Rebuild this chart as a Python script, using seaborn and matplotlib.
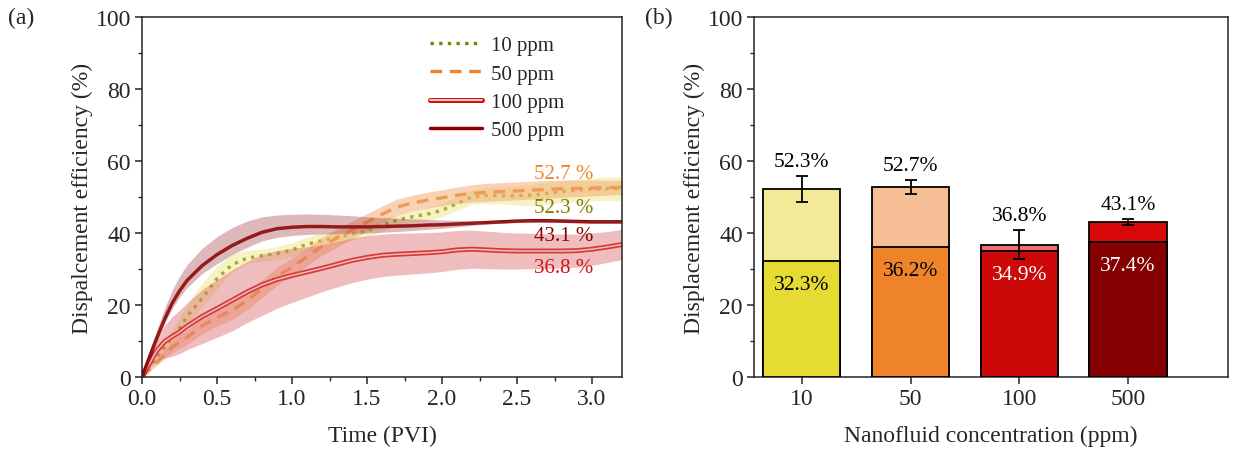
import numpy as np
import pandas as pd
import matplotlib
matplotlib.use("Agg")
import matplotlib.pyplot as plt
import matplotlib.patheffects as pe
from matplotlib.ticker import MultipleLocator, FormatStrFormatter
import seaborn as sns

sns.set_style("ticks")
plt.rcParams["font.family"] = ["Liberation Serif", "DejaVu Serif"]

# ---------------- data: panel (a) ----------------
time_pvi = [0, 0.05, 0.1, 0.15, 0.2, 0.25, 0.3, 0.4, 0.5, 0.6, 0.7, 0.8, 0.9, 1.0,
            1.1, 1.2, 1.3, 1.4, 1.5, 1.6, 1.7, 1.8, 1.9, 2.0, 2.1, 2.2, 2.3, 2.4,
            2.5, 2.6, 2.7, 2.8, 2.9, 3.0, 3.1, 3.2]

eff_10 = [0, 2.8, 5.5, 8.2, 11.0, 13.5, 16.8, 21.8, 27.3, 31.2, 33.0, 33.7, 34.3, 35.3,
          36.9, 37.9, 38.8, 39.7, 40.6, 42.2, 43.6, 44.5, 45.2, 46.3, 48.2, 50.0, 50.4, 50.4,
          50.4, 50.5, 51.0, 51.5, 51.9, 52.2, 52.3, 52.3]
low_10 = [0, 2.3, 4.5, 6.7, 9.0, 11.5, 14.5, 19.5, 24.5, 29.0, 31.5, 32.2, 32.5, 33.4,
          35.0, 36.0, 37.0, 38.0, 38.9, 40.5, 42.1, 43.0, 43.5, 44.5, 46.3, 48.0, 48.2, 48.0,
          47.8, 47.6, 48.0, 48.5, 48.8, 49.0, 49.0, 49.0]
high_10 = [0, 3.3, 6.5, 9.7, 13.0, 16.5, 20.0, 26.0, 30.8, 34.2, 35.2, 35.5, 36.3, 37.3,
           38.9, 39.9, 40.7, 41.5, 42.4, 43.9, 45.1, 46.1, 47.0, 48.3, 50.2, 52.0, 52.6, 52.9,
           53.1, 53.4, 54.0, 54.5, 55.0, 55.3, 55.6, 55.6]

eff_50 = [0, 2.0, 4.0, 6.2, 8.2, 9.8, 11.0, 14.2, 16.5, 18.5, 21.2, 24.5, 28.0, 30.5,
          33.4, 36.3, 38.6, 40.8, 43.0, 45.2, 47.2, 48.3, 49.1, 49.8, 50.5, 51.0, 51.3, 51.5,
          51.7, 51.9, 52.1, 52.3, 52.4, 52.5, 52.6, 52.7]
std_50 = [0, 0.4, 0.8, 1.2, 1.5, 1.8, 2.0, 2.2, 2.4, 2.5, 2.5, 2.5, 2.5, 2.5,
          2.5, 2.5, 2.5, 2.5, 2.4, 2.3, 2.2, 2.2, 2.2, 2.2, 2.3, 2.4, 2.5, 2.5,
          2.5, 2.5, 2.5, 2.4, 2.3, 2.2, 2.1, 2.0]

eff_100 = [0, 3.8, 7.4, 9.8, 11.2, 12.5, 14.1, 16.8, 19.0, 21.3, 23.6, 25.6, 27.1, 28.2,
           29.2, 30.2, 31.3, 32.4, 33.2, 33.8, 34.1, 34.3, 34.5, 34.8, 35.3, 35.5, 35.3, 35.1,
           35.0, 35.0, 35.0, 35.0, 35.1, 35.5, 36.1, 36.8]
std_100 = [0, 1.5, 3.0, 4.5, 5.5, 6.0, 6.5, 7.5, 8.0, 8.5, 8.5, 8.5, 8.0, 7.5,
           7.0, 6.5, 6.3, 6.2, 6.0, 5.9, 5.8, 5.7, 5.6, 5.5, 5.4, 5.3, 5.2, 5.1,
           5.0, 4.9, 4.8, 4.7, 4.6, 4.5, 4.3, 4.2]

eff_500 = [0, 5.5, 11.0, 16.0, 20.4, 23.9, 26.8, 30.9, 34.0, 36.5, 38.5, 40.2, 41.2, 41.6,
           41.8, 41.8, 41.7, 41.7, 41.7, 41.8, 41.9, 42.0, 42.2, 42.3, 42.5, 42.7, 42.9, 43.1,
           43.3, 43.4, 43.4, 43.3, 43.2, 43.1, 43.1, 43.1]
low_500 = [0, 5.0, 10.0, 14.8, 18.9, 22.2, 24.8, 28.7, 31.5, 34.0, 36.0, 37.8, 38.8, 39.3,
           39.6, 39.7, 39.8, 39.9, 40.0, 40.2, 40.4, 40.7, 41.0, 41.3, 41.7, 42.1, 42.5, 42.7,
           42.9, 43.0, 43.0, 42.9, 42.8, 42.7, 42.7, 42.7]
high_500 = [0, 6.5, 13.0, 19.0, 24.0, 28.0, 31.2, 35.7, 39.0, 41.5, 43.3, 44.5, 45.0, 45.2,
            45.3, 45.2, 45.0, 44.8, 44.5, 44.3, 44.1, 43.9, 43.8, 43.6, 43.5, 43.4, 43.4, 43.5,
            43.7, 43.8, 43.8, 43.7, 43.6, 43.5, 43.5, 43.5]

series_labels = ["10 ppm", "50 ppm", "100 ppm", "500 ppm"]
final_texts = ["52.3 %", "52.7 %", "36.8 %", "43.1 %"]

# ---------------- data: panel (b) ----------------
concentrations = ["10", "50", "100", "500"]
total_eff = [52.3, 52.7, 36.8, 43.1]
total_err = [3.6, 2.0, 4.0, 0.8]
lower_eff = [32.3, 36.2, 34.9, 37.4]

# ---------------- styling ----------------
line_colors = ["#808000", "#F0832A", "#D41010", "#8B0000"]
band_colors = ["#E8E070", "#F4AE78", "#DC6E6E", "#A5464B"]
band_alpha = [0.42, 0.55, 0.45, 0.38]
label_colors = ["#808000", "#F0832A", "#D41010", "#8B0000"]
lower_colors = ["#E5DB33", "#EF832A", "#CC0808", "#850000"]
upper_colors = ["#F2EA96", "#F5BE95", "#F46E6E", "#D90808"]
lower_text_colors = ["black", "black", "white", "white"]
spine_col = "#262626"

fig = plt.figure(figsize=(12.37, 4.56), dpi=100)
ax1 = fig.add_axes([142 / 1237, 78 / 456, 480 / 1237, 360 / 456])
ax2 = fig.add_axes([754 / 1237, 78 / 456, 474 / 1237, 360 / 456])

# ---------------- panel (a) ----------------
t = np.asarray(time_pvi, float)
bands = [
    (np.asarray(low_10), np.asarray(high_10)),
    (np.asarray(eff_50) - np.asarray(std_50), np.asarray(eff_50) + np.asarray(std_50)),
    (np.asarray(eff_100) - np.asarray(std_100), np.asarray(eff_100) + np.asarray(std_100)),
    (np.asarray(low_500), np.asarray(high_500)),
]
means = [eff_10, eff_50, eff_100, eff_500]
styles = [
    dict(lw=2.4, linestyle=(0, (1, 1.6))),
    dict(lw=2.4, linestyle=(0, (3.5, 2.3))),
    dict(lw=1.1),
    dict(lw=2.5),
]
handles = []
for i in range(4):
    if i == 2:
        sns.lineplot(x=t, y=means[i], ax=ax1, color="white", zorder=2, **styles[i])
        h = ax1.lines[-1]
        h.set_path_effects([pe.Stroke(linewidth=3.6, foreground=line_colors[i]), pe.Normal()])
    else:
        sns.lineplot(x=t, y=means[i], ax=ax1, color=line_colors[i], zorder=2, **styles[i])
        h = ax1.lines[-1]
    lo, hi = bands[i]
    ax1.fill_between(t, lo, hi, color=band_colors[i], alpha=band_alpha[i], lw=0, zorder=2)
    handles.append(h)

ax1.set_xlim(0, 3.2)
ax1.set_ylim(0, 100)
ax1.xaxis.set_major_locator(MultipleLocator(0.5))
ax1.xaxis.set_minor_locator(MultipleLocator(0.25))
ax1.yaxis.set_major_locator(MultipleLocator(20))
ax1.yaxis.set_minor_locator(MultipleLocator(10))
ax1.xaxis.set_major_formatter(FormatStrFormatter("%.1f"))
ax1.set_xlabel("Time (PVI)", fontsize=17, labelpad=11)
ax1.set_ylabel("Dispalcement efficiency (%)", fontsize=17, labelpad=1.5)

ax1.legend(handles, series_labels, loc="upper left",
           bbox_to_anchor=(0.6, 0.948), frameon=False, fontsize=15,
           handlelength=2.5, handletextpad=0.45, labelspacing=0.42,
           borderpad=0, borderaxespad=0)

text_y = [47.0, 56.4, 30.5, 39.2]
for i in range(4):
    ax1.text(2.81, text_y[i], final_texts[i], color=label_colors[i], fontsize=15,
             ha="center", va="center")

# ---------------- panel (b) ----------------
dfb = pd.DataFrame({"conc": concentrations, "total": total_eff, "lower": lower_eff})
sns.barplot(data=dfb, x="conc", y="total", hue="conc", palette=upper_colors,
            width=0.71, edgecolor="black", linewidth=1.3, ax=ax2, legend=False,
            saturation=1, zorder=2)
sns.barplot(data=dfb, x="conc", y="lower", hue="conc", palette=lower_colors,
            width=0.71, edgecolor="black", linewidth=1.3, ax=ax2, legend=False,
            saturation=1, zorder=3)
xpos = np.arange(len(concentrations))
ax2.errorbar(xpos, total_eff, yerr=total_err, fmt="none", ecolor="black",
             elinewidth=1.3, capsize=4, capthick=1.3, zorder=4)
for i in range(4):
    ax2.text(xpos[i], total_eff[i] + total_err[i] + 4.0, f"{total_eff[i]}%",
             ha="center", va="center", fontsize=15.5, color="black", zorder=5)
    ax2.text(xpos[i], lower_eff[i] - 6.5, f"{lower_eff[i]}%",
             ha="center", va="center", fontsize=15.5, color=lower_text_colors[i], zorder=5)

ax2.set_xlim(-0.44, 3.92)
ax2.set_ylim(0, 100)
ax2.yaxis.set_major_locator(MultipleLocator(20))
ax2.yaxis.set_minor_locator(MultipleLocator(10))
ax2.set_xlabel("Nanofluid concentration (ppm)", fontsize=17, labelpad=11)
ax2.set_ylabel("Displacement efficiency (%)", fontsize=17, labelpad=1.5)

for ax in (ax1, ax2):
    for sp in ax.spines.values():
        sp.set_visible(True)
        sp.set_color(spine_col)
        sp.set_linewidth(1.1)
    ax.tick_params(axis="both", which="major", direction="out", length=5,
                   width=1.1, color=spine_col, labelsize=17, pad=3)
    ax.tick_params(axis="both", which="minor", direction="out", length=3,
                   width=1.0, color=spine_col)
    ax.set_facecolor("white")
ax2.tick_params(axis="x", which="minor", length=0)

fig.text(8 / 1237, 1 - 18 / 456, "(a)", fontsize=17, ha="left", va="center")
fig.text(645 / 1237, 1 - 18 / 456, "(b)", fontsize=17, ha="left", va="center")

fig.savefig("out.png", dpi=100, facecolor="white")
